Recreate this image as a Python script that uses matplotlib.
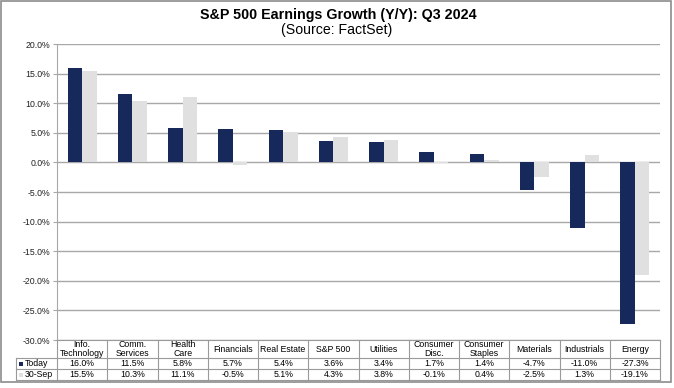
import matplotlib
matplotlib.use("Agg")
import matplotlib.pyplot as plt
from matplotlib.lines import Line2D
from matplotlib.patches import Rectangle
from matplotlib import transforms
import numpy as np

plt.rcParams['font.family'] = ['Liberation Sans', 'DejaVu Sans']

categories = ["Info.\nTechnology", "Comm.\nServices", "Health\nCare", "Financials",
              "Real Estate", "S&P 500", "Utilities", "Consumer\nDisc.", "Consumer\nStaples",
              "Materials", "Industrials", "Energy"]
today = [16.0, 11.5, 5.8, 5.7, 5.4, 3.6, 3.4, 1.7, 1.4, -4.7, -11.0, -27.3]
sep30 = [15.5, 10.3, 11.1, -0.5, 5.1, 4.3, 3.8, -0.1, 0.4, -2.5, 1.3, -19.1]
series_names = ["Today", "30-Sep"]
yticks = [20, 15, 10, 5, 0, -5, -10, -15, -20, -25, -30]

W, H = 674, 388
DARK = "#17285a"
LIGHT = "#e0e0e0"
GRID = "#a8a8a8"

fig = plt.figure(figsize=(W / 100, H / 100), dpi=100)
fig.patch.set_facecolor("white")

def fx(x):
    return x / W

def fy(y):
    return 1 - y / H

ax_l, ax_r, ax_t, ax_b = 57, 660, 44, 340
ax = fig.add_axes([fx(ax_l), fy(ax_b), (ax_r - ax_l) / W, (ax_b - ax_t) / H])

x = np.arange(len(categories))
bw = 0.29
ax.bar(x - bw / 2, today, width=bw, color=DARK, zorder=3)
ax.bar(x + bw / 2, sep30, width=bw, color=LIGHT, zorder=3)

ax.set_xlim(-0.5, len(categories) - 0.5)
ax.set_ylim(-30, 20)
ax.set_yticks(yticks)
ax.set_yticklabels([f"{v:.1f}%" for v in yticks], fontsize=6.3, color="#222222")
ax.set_xticks([])
ax.yaxis.grid(True, color=GRID, linewidth=1.0, zorder=0)
for s in ["top", "right", "bottom"]:
    ax.spines[s].set_visible(False)
ax.spines["left"].set_color(GRID)
ax.tick_params(axis="y", length=3, color=GRID, pad=2)

# Titles
fig.text(fx(338), fy(15.5), "S&P 500 Earnings Growth (Y/Y): Q3 2024", ha="center", va="center",
         fontsize=10.3, fontweight="bold")
fig.text(fx(337), fy(30), "(Source: FactSet)", ha="center", va="center", fontsize=10.2)

# Data table below the axes
tr = transforms.blended_transform_factory(ax.transData, fig.transFigure)
row_y = [340, 358, 369, 380]
cat_w_px = (ax_r - ax_l) / len(categories)
label_left = -0.5 - (ax_l - 16) / cat_w_px
lc = "#9a9a9a"
lw = 0.8
right = len(categories) - 0.5
# horizontal lines
fig.add_artist(Line2D([-0.5, right], [fy(340), fy(340)], transform=tr, color=lc, lw=lw))
for yy in row_y[1:]:
    fig.add_artist(Line2D([label_left, right], [fy(yy), fy(yy)], transform=tr, color=lc, lw=lw))
# vertical lines
for i in range(len(categories) + 1):
    xb = i - 0.5
    fig.add_artist(Line2D([xb, xb], [fy(340), fy(380)], transform=tr, color=lc, lw=lw))
fig.add_artist(Line2D([label_left, label_left], [fy(358), fy(380)], transform=tr, color=lc, lw=lw))

fs = 6.3
for i, c in enumerate(categories):
    fig.text(i, fy(349), c, transform=tr, ha="center", va="center", fontsize=fs,
             linespacing=0.95)
    fig.text(i, fy(363.5), f"{today[i]:.1f}%", transform=tr, ha="center", va="center", fontsize=fs)
    fig.text(i, fy(374.5), f"{sep30[i]:.1f}%", transform=tr, ha="center", va="center", fontsize=fs)

for name, yy, col in [(series_names[0], 363.5, DARK), (series_names[1], 374.5, LIGHT)]:
    fig.add_artist(Rectangle((label_left + 0.06, fy(yy) - 2 / H), 4 / cat_w_px, 4 / H,
                             transform=tr, facecolor=col, edgecolor="none"))
    fig.text(label_left + 0.17, fy(yy), name, transform=tr, ha="left", va="center", fontsize=fs)

# outer frame
fig.add_artist(Rectangle((fx(1), fy(382)), fx(671) - fx(1), fy(1) - fy(382),
                         transform=fig.transFigure, fill=False, edgecolor="#8c8c8c", lw=1.2))

fig.savefig("out.png", dpi=100)
